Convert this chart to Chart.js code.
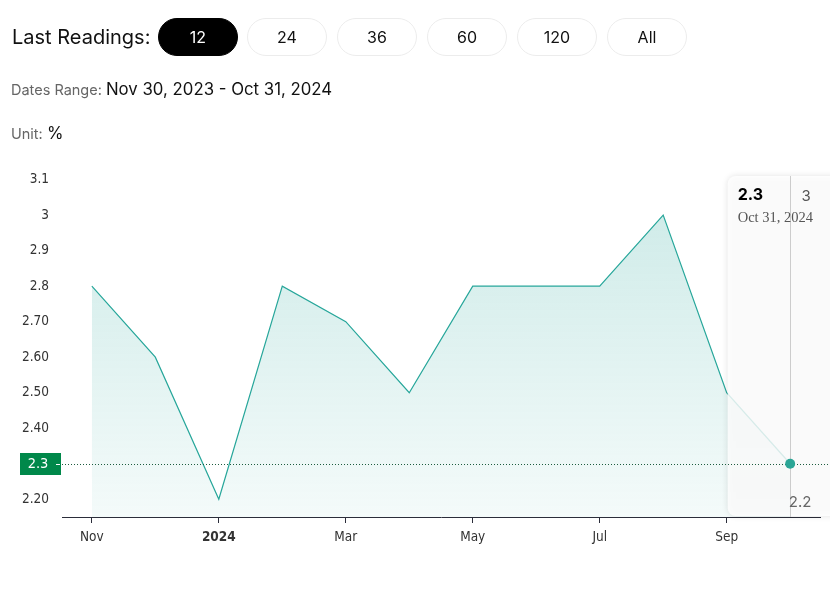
<!DOCTYPE html>
<html>
<head>
<meta charset="utf-8">
<script src="https://cdn.jsdelivr.net/npm/chart.js@4/dist/chart.umd.min.js"></script>
<style>
  html,body{margin:0;padding:0;background:#fff;width:830px;height:607px;overflow:hidden;font-family:"Inter","Open Sans",sans-serif;}
  #wrap{position:absolute;left:0;top:0;width:830px;height:607px;}
  #hdr{position:absolute;left:0;top:0;width:830px;z-index:2;}
  .lr{position:absolute;left:12px;top:24px;font-size:20px;color:#111;line-height:26px;}
  .btn{position:absolute;top:18px;width:78px;height:36px;border:1px solid #ececec;border-radius:19px;font-size:16px;line-height:36px;text-align:center;color:#111;background:#fff;}
  .btn.on{background:#000;color:#fff;border-color:#000;}
  .row{position:absolute;left:11px;font-size:14.5px;color:#666;}
  .row b{font-weight:normal;font-size:16.8px;color:#111;}
</style>
</head>
<body>
<div id="hdr">
  <div class="lr">Last Readings:</div>
  <div class="btn on" style="left:158px">12</div>
  <div class="btn" style="left:247px">24</div>
  <div class="btn" style="left:337px">36</div>
  <div class="btn" style="left:427px">60</div>
  <div class="btn" style="left:517px">120</div>
  <div class="btn" style="left:607px">All</div>
  <div class="row" style="top:79px">Dates Range: <b>Nov 30, 2023 - Oct 31, 2024</b></div>
  <div class="row" style="top:123px">Unit: <b>%</b></div>
</div>
<div id="wrap"><canvas id="c" width="830" height="607"></canvas></div>
<script>
const dates = ['Nov 30, 2023','Dec 31, 2023','Jan 31, 2024','Feb 29, 2024','Mar 31, 2024','Apr 30, 2024','May 31, 2024','Jun 30, 2024','Jul 31, 2024','Aug 31, 2024','Sep 30, 2024','Oct 31, 2024'];
const values = [2.8, 2.6, 2.2, 2.8, 2.7, 2.5, 2.8, 2.8, 2.8, 3.0, 2.5, 2.3];
const xTickLabels = ['Nov','','2024','','Mar','','May','','Jul','','Sep',''];
const yTickValues = [2.2, 2.3, 2.4, 2.5, 2.6, 2.7, 2.8, 2.9, 3.0, 3.1];
const yTickLabels = ['2.20','2.3','2.40','2.50','2.60','2.70','2.8','2.9','3','3.1'];
const tooltipTop = '3';
const tooltipBottom = '2.2';

const TEAL = '#26a69a';
const lastIdx = values.length - 1;

const overlay = {
  id: 'overlay',
  afterDatasetsDraw(chart) {
    const ctx = chart.ctx;
    const ca = chart.chartArea;
    const ys = chart.scales.y;
    const meta = chart.getDatasetMeta(0);
    const pt = meta.data[lastIdx];
    const boxL = chart.scales.x.getPixelForValue(10) + 1;
    const boxT = 176;
    // tooltip box
    ctx.save();
    ctx.shadowColor = 'rgba(0,0,0,0.14)';
    ctx.shadowBlur = 6;
    ctx.fillStyle = 'rgba(255,255,255,0.82)';
    ctx.beginPath();
    ctx.roundRect(boxL, boxT, 140, ca.bottom - boxT - 1, 8);
    ctx.fill();
    ctx.restore();
    // vertical line
    ctx.save();
    ctx.strokeStyle = '#cccccc';
    ctx.lineWidth = 1;
    ctx.beginPath();
    ctx.moveTo(Math.round(pt.x) + 0.5, boxT);
    ctx.lineTo(Math.round(pt.x) + 0.5, ca.bottom);
    ctx.stroke();
    ctx.restore();
    // texts
    ctx.save();
    ctx.textBaseline = 'middle';
    ctx.fillStyle = '#000';
    ctx.font = 'bold 16px "Inter", "Open Sans", sans-serif';
    ctx.textAlign = 'left';
    ctx.fillText(String(values[lastIdx]), boxL + 10, 195);
    ctx.fillStyle = '#555';
    ctx.font = '15px "Inter", sans-serif';
    ctx.textAlign = 'center';
    ctx.fillText(tooltipTop, pt.x + 16, 196);
    ctx.font = '14.5px "Liberation Serif", "DejaVu Serif", serif';
    ctx.textAlign = 'left';
    ctx.fillText(dates[lastIdx], boxL + 10, 218);
    ctx.font = '15px "Inter", sans-serif';
    ctx.textAlign = 'center';
    ctx.fillStyle = '#666';
    ctx.fillText(tooltipBottom, pt.x + 10, 502);
    ctx.restore();
    // current value dotted line
    const yv = ys.getPixelForValue(values[lastIdx]);
    const yy = Math.round(yv) + 0.5;
    ctx.save();
    ctx.strokeStyle = '#1d5c3f';
    ctx.lineWidth = 1;
    ctx.setLineDash([1, 2]);
    ctx.beginPath();
    ctx.moveTo(ca.left, yy);
    ctx.lineTo(830, yy);
    ctx.stroke();
    ctx.restore();
    // green label
    ctx.save();
    ctx.fillStyle = '#00884a';
    ctx.fillRect(20, Math.round(yv) - 11, 41, 22);
    ctx.fillStyle = '#fff';
    ctx.font = '14.5px "DejaVu Sans Condensed", "DejaVu Sans", sans-serif';
    ctx.textAlign = 'center';
    ctx.textBaseline = 'middle';
    ctx.fillText(String(values[lastIdx]), 38, yv + 0.5);
    ctx.fillRect(56, yy - 0.5, 4, 1);
    ctx.restore();
    // point on top
    ctx.save();
    ctx.fillStyle = '#2ba596';
    ctx.beginPath();
    ctx.arc(pt.x, pt.y, 5, 0, Math.PI * 2);
    ctx.fill();
    ctx.restore();
  }
};

new Chart(document.getElementById('c'), {
  type: 'line',
  data: {
    datasets: [{
      data: values.map((v, i) => ({ x: i, y: v })),
      borderColor: TEAL,
      borderWidth: 1.2,
      pointRadius: 0,
      tension: 0,
      fill: 'start',
      backgroundColor(context) {
        const ca = context.chart.chartArea;
        if (!ca) return 'rgba(38,166,154,0.15)';
        const g = context.chart.ctx.createLinearGradient(0, ca.top, 0, ca.bottom);
        g.addColorStop(0, 'rgba(38,166,154,0.24)');
        g.addColorStop(1, 'rgba(38,166,154,0.05)');
        return g;
      }
    }]
  },
  options: {
    responsive: false,
    animation: false,
    events: [],
    layout: { padding: { top: 169, right: 10, bottom: 30, left: 0 } },
    plugins: { legend: { display: false }, tooltip: { enabled: false } },
    scales: {
      x: {
        type: 'linear',
        min: -0.47,
        max: 11.47,
        afterBuildTicks(scale) { scale.ticks = xTickLabels.map((l, i) => ({ value: i, label: l })).filter(t => t.label !== ''); },
        afterFit(scale) { scale.height = 60; },
        border: { display: true, color: '#2b2d3a', width: 1 },
        grid: { drawOnChartArea: false, drawTicks: true, tickLength: 6, color: '#2b2d3a' },
        ticks: {
          autoSkip: false,
          maxRotation: 0,
          padding: 6,
          color: '#333',
          font(ctx) {
            const bold = ctx.tick && ctx.tick.label === '2024';
            return { family: '"DejaVu Sans Condensed", "DejaVu Sans", sans-serif', size: 13.5, weight: bold ? 'bold' : 'normal' };
          },
          callback(v) { return xTickLabels[Math.round(v)]; }
        }
      },
      y: {
        min: 2.15,
        max: 3.13,
        afterBuildTicks(scale) { scale.ticks = yTickValues.map(v => ({ value: v })); },
        afterFit(scale) { scale.width = 62; },
        border: { display: false },
        grid: { display: false, drawTicks: false },
        ticks: {
          padding: 13,
          color: '#333',
          font: { family: '"DejaVu Sans Condensed", "DejaVu Sans", sans-serif', size: 13.5 },
          callback(v) {
            const i = yTickValues.findIndex(t => Math.abs(t - v) < 1e-6);
            return i >= 0 ? yTickLabels[i] : '';
          }
        }
      }
    }
  },
  plugins: [overlay]
});
</script>
</body>
</html>
